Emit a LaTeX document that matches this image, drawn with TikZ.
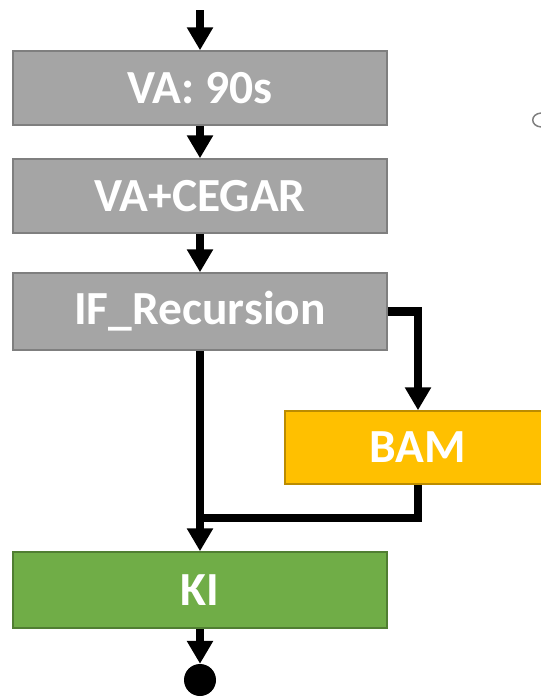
\documentclass[tikz,border=0pt]{standalone}
\usepackage{fontspec}
\setmainfont{Carlito}
\usepackage{tikz}
\usetikzlibrary{arrows.meta, positioning}
\definecolor{stepgray}{HTML}{A5A5A5}
\definecolor{stepgrayline}{HTML}{7F7F7F}
\definecolor{bamyellow}{HTML}{FFC000}
\definecolor{bamyellowline}{HTML}{BC8C00}
\definecolor{kigreen}{HTML}{70AD47}
\definecolor{kigreenline}{HTML}{507E32}
\def\gr{stepgray}
\tikzstyle{stage} = [rectangle, minimum width=374pt, minimum height=74pt, text centered, draw=stepgrayline, fill=\gr, line width=1.5pt, text=white, font=\fontsize{47.5}{50}\selectfont\bfseries, inner sep=0pt]
\tikzstyle{bambox} = [stage, minimum width=266pt, minimum height=73pt, draw=bamyellowline, fill=bamyellow]
\tikzstyle{kibox} = [stage, minimum height=76pt, draw=kigreenline, fill=kigreen]
\tikzstyle{flow} = [line width=8.5pt, -{Triangle[width=25pt,length=23pt]}]
\tikzstyle{line} = [line width=8.5pt]

\begin{document}
\begin{tikzpicture}[x=1pt, y=-1pt]

  \useasboundingbox (0,0) rectangle (541,697);

  \coordinate (start) at (200,10);
  \node[stage] (va) at (200,88) {VA: 90s};
  \node[stage] (cegar) at (200,196) {VA+CEGAR};
  \node[stage, minimum height=77pt] (rec) at (200,311.5) {IF\_Recursion};
  \node[bambox] (bam) at (418,447.5) {BAM};
  \node[kibox] (ki) at (200,590) {KI};
  \node[circle, fill=black, minimum size=32pt, inner sep=0pt] (stop) at (200,680) {};
  \coordinate (join) at (200,518);

  \draw[flow] (start) -- (va);
  \foreach \a/\b in {va/cegar, cegar/rec, rec/ki, ki/stop}{
    \draw[flow] (\a) -- (\b);
  }
  \draw[flow] (rec.east) -| (bam.north);
  \draw[line] (bam.south) |- (join);

  % cut-off shape at the right edge
  \draw[stepgrayline, line width=1.5pt] (541,113) .. controls (530,114) and (530,126) .. (541,127);

\end{tikzpicture}
\end{document}
